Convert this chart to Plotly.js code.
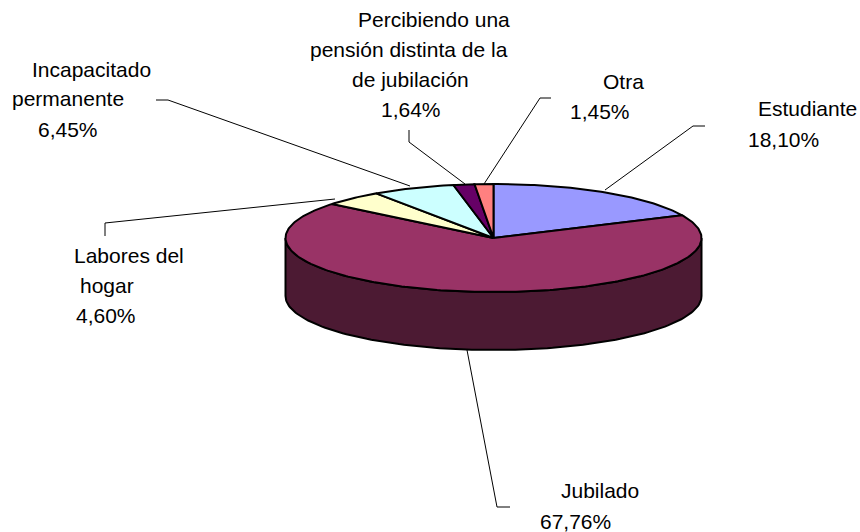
<!DOCTYPE html>
<html><head><meta charset="utf-8">
<script src="https://cdn.plot.ly/plotly-3.0.1.min.js"></script>
<style>html,body{margin:0;padding:0;background:#fff}</style></head>
<body><div id="chart" style="width:860px;height:532px"></div>
<script>
const categories = ["Estudiante","Jubilado","Labores del hogar","Incapacitado permanente","Percibiendo una pensión distinta de la de jubilación","Otra"];
const shares = [18.10,67.76,4.60,6.45,1.64,1.45];
const topColors = ["#9999FF","#993366","#FFFFCC","#CCFFFF","#660066","#FF8080"];
const sideColors = ["#4C4C80","#4C1A33","#808066","#668080","#330033","#804040"];
const labelLines = [
 ["Percibiendo una",358,20],["pensión distinta de la",310,50],["de jubilación",352,80],["1,64%",381,110],
 ["Incapacitado",32,70],["permanente",12,99],["6,45%",38,130],
 ["Otra",603,82],["1,45%",570,112],
 ["Estudiante",758,109],["18,10%",748,140],
 ["Labores del",74,256],["hogar",80,286],["4,60%",76,316],
 ["Jubilado",561,491],["67,76%",540,522]
];
const leaders = [
 [[156,100],[168,100],[410,186]],
 [[409,130],[409,142],[465,184]],
 [[551,98],[540,98],[484,184]],
 [[705,126],[693,126],[605,190]],
 [[105,236],[105,223],[335,199]],
 [[467,350],[497,507],[510,507]]
];
const cx=493.5, cy=238, rx=208, ry=54, depth=58;
const total=shares.reduce((a,b)=>a+b,0);
const px=t=>cx+rx*Math.sin(t), py=t=>cy-ry*Math.cos(t);
const traces=[];
const outline={color:"#000",width:2};
let acc=0;
const bounds=shares.map(v=>{const a=acc/total*2*Math.PI;acc+=v;return [a,acc/total*2*Math.PI];});
bounds.forEach(([a,b],i)=>{
  const lo=Math.max(a,Math.PI/2), hi=Math.min(b,3*Math.PI/2);
  if(hi<=lo) return;
  const xs=[],ys=[];
  for(let k=0;k<=120;k++){const t=lo+(hi-lo)*k/120;xs.push(px(t));ys.push(py(t));}
  for(let k=120;k>=0;k--){const t=lo+(hi-lo)*k/120;xs.push(px(t));ys.push(py(t)+depth);}
  xs.push(xs[0]);ys.push(ys[0]);
  traces.push({x:xs,y:ys,mode:"lines",fill:"toself",fillcolor:sideColors[i],line:outline,hoverinfo:"skip",showlegend:false,name:categories[i]});
});
bounds.forEach(([a,b],i)=>{
  const xs=[cx],ys=[cy];
  const n=Math.max(8,Math.ceil((b-a)*60));
  for(let k=0;k<=n;k++){const t=a+(b-a)*k/n;xs.push(px(t));ys.push(py(t));}
  xs.push(cx);ys.push(cy);
  traces.push({x:xs,y:ys,mode:"lines",fill:"toself",fillcolor:topColors[i],line:outline,hoverinfo:"skip",showlegend:false,name:categories[i]});
});
const shapes=leaders.map(p=>({type:"path",xref:"x",yref:"y",
  path:"M"+p.map(q=>q.join(",")).join("L"),line:{color:"#000",width:1},layer:"below"}));
const annotations=labelLines.map(([text,x,y])=>({text,x,y,xref:"x",yref:"y",xanchor:"left",yanchor:"middle",showarrow:false,xshift:-2,yshift:1,
  font:{family:"Liberation Sans, Arial, sans-serif",size:21,color:"#000"}}));
Plotly.newPlot("chart",traces,{
  width:860,height:532,margin:{l:0,r:0,t:0,b:0},paper_bgcolor:"#fff",plot_bgcolor:"#fff",showlegend:false,
  xaxis:{range:[0,860],visible:false,fixedrange:true},
  yaxis:{range:[532,0],visible:false,fixedrange:true},
  shapes,annotations
},{displayModeBar:false,staticPlot:true});
</script></body></html>
